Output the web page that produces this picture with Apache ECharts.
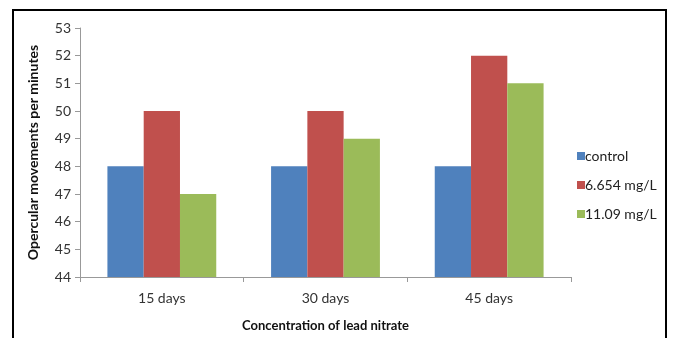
<!DOCTYPE html>
<html>
<head>
<meta charset="utf-8">
<script src="https://cdn.jsdelivr.net/npm/echarts@6/dist/echarts.min.js"></script>
<style>
  html, body { margin: 0; padding: 0; background: #fff; }
  #chart { width: 675px; height: 338px; }
</style>
</head>
<body>
<div id="chart"></div>
<script>
// Opercular movement counts by exposure period and lead nitrate concentration
const categories = ['15 days', '30 days', '45 days'];
const seriesNames = ['control', '6.654 mg/L', '11.09 mg/L'];
const controlValues = [48, 48, 48];
const lowDoseValues = [50, 50, 52];
const highDoseValues = [47, 49, 51];
const yTicks = [44, 45, 46, 47, 48, 49, 50, 51, 52, 53];

const colors = ['#4F81BD', '#C0504D', '#9BBB59'];
const font = 'Lato, "Open Sans", sans-serif';

const chart = echarts.init(document.getElementById('chart'));
const valuesBySeries = [controlValues, lowDoseValues, highDoseValues];

chart.setOption({
  animation: false,
  backgroundColor: '#fff',
  textStyle: { fontFamily: font },
  graphic: [{
    type: 'rect',
    shape: { x: 13, y: 10, width: 653, height: 340 },
    style: { fill: 'none', stroke: '#000', lineWidth: 2 },
    silent: true
  }],
  grid: { left: 80, top: 28, width: 491, height: 249, containLabel: false },
  legend: {
    orient: 'vertical',
    left: 572,
    top: 144,
    itemWidth: 8,
    itemHeight: 8,
    itemGap: 15,
    icon: 'rect',
    textStyle: { fontFamily: font, fontSize: 14, color: '#222', padding: [0, 0, 0, -5] },
    data: seriesNames
  },
  xAxis: {
    type: 'category',
    data: categories,
    name: 'Concentration of lead nitrate',
    nameLocation: 'middle',
    nameGap: 42,
    nameTextStyle: { fontFamily: font, fontSize: 13, fontWeight: 'bold', color: '#111' },
    axisLine: { lineStyle: { color: '#999', width: 1 } },
    axisTick: { show: true, alignWithLabel: false, length: 5, lineStyle: { color: '#999' } },
    axisLabel: { fontFamily: font, fontSize: 14, color: '#333', margin: 14 }
  },
  yAxis: {
    type: 'value',
    min: yTicks[0],
    max: yTicks[yTicks.length - 1],
    interval: 1,
    name: 'Opercular movements per minutes',
    nameLocation: 'middle',
    nameRotate: 90,
    nameGap: 40,
    nameTextStyle: { fontFamily: font, fontSize: 14, fontWeight: 'bold', color: '#111' },
    axisLine: { show: true, lineStyle: { color: '#999', width: 1 } },
    axisTick: { show: true, length: 5, lineStyle: { color: '#999' } },
    axisLabel: { fontFamily: font, fontSize: 14, color: '#333', margin: 9 },
    splitLine: { show: false }
  },
  series: seriesNames.map((name, i) => ({
    name,
    type: 'bar',
    data: valuesBySeries[i],
    barGap: '0%',
    barCategoryGap: '33.5%',
    itemStyle: { color: colors[i] }
  }))
});
</script>
</body>
</html>
